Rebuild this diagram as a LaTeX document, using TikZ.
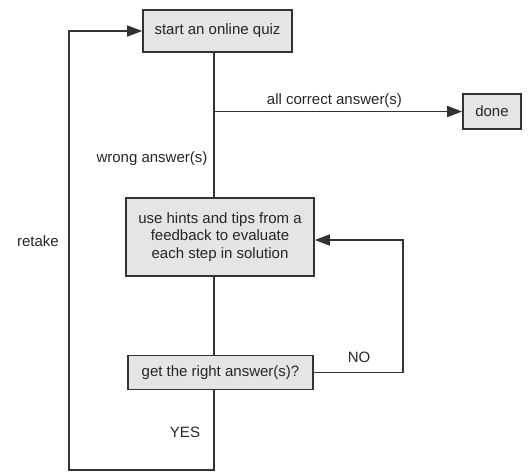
\documentclass[tikz,border=0pt]{standalone}
\usepackage{fontspec}
\setmainfont{Liberation Sans}
\usepackage{xcolor}
\usepackage{tikz}
\usetikzlibrary{arrows.meta,calc}
\tikzset{>=Triangle}
\definecolor{Edge}{HTML}{333333}
\definecolor{BoxBG}{HTML}{E5E5E5}

\begin{document}
\begin{tikzpicture}[x=1pt,y=-1pt,font=\fontsize{15}{17.5}\selectfont]
  \tikzset{
    qnode/.style={rectangle, inner sep=0pt, align=center,
      text=black!85, draw=Edge, line width=1.6pt, fill=BoxBG},
    qlabel/.style={inner sep=0pt, text=black!85},
    link/.style={line width=1.6pt, Edge},
    flow/.style={link, -{Triangle[length=15pt,width=11pt]}}
  }
  \useasboundingbox (0,0) rectangle (528,472);

  \node[qnode, minimum width=149pt, minimum height=42pt] (start) at (217.5,31) {start an online quiz};
  \node[qnode, minimum width=58pt, minimum height=35pt] (done) at (492,111.5) {done};
  \node[qnode, minimum width=188pt, minimum height=78pt] (feedback) at (220,237)
    {use hints and tips from a\\feedback to evaluate\\each step in solution};
  \node[qnode, minimum width=185pt, minimum height=34pt] (check) at (220.5,372.5) {get the right answer(s)?};

  \node[qlabel] (correct) at (334.5,101) {all correct answer(s)};
  \node[qlabel] (wrong) at (152,159) {wrong answer(s)};
  \node[qlabel] (retake) at (38,241) {retake};
  \node[qlabel] (no) at (359,357) {NO};
  \node[qlabel] (yes) at (185,432) {YES};

  \coordinate (fork) at (214,111.5);
  \coordinate (nobend) at (403,240);
  \coordinate (yesbend) at (214,470);
  \coordinate (retbend) at (69,470);

  \draw[flow] (start.south -| fork) -- (fork) -- (done.west);
  \draw[link] (fork) -- (feedback.north -| fork);
  \draw[link] (feedback.south -| fork) -- (check.north -| fork);
  \draw[flow] (check.east) -- (check.east -| nobend) -- (nobend) -- (nobend -| feedback.east);
  \draw[flow] (check.south -| fork) -- (yesbend) -- (retbend) -- (retbend |- start.west) -- (start.west);
\end{tikzpicture}
\end{document}
